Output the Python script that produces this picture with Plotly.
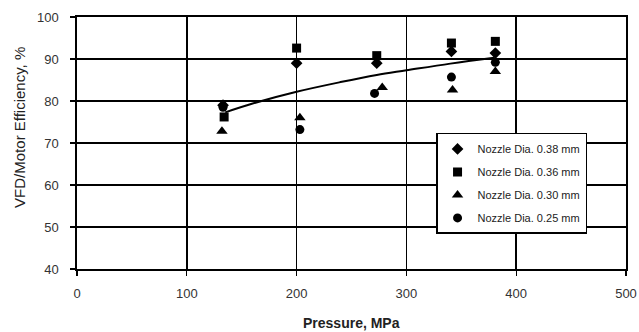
import plotly.graph_objects as go

# Data
series_names = ["Nozzle Dia. 0.38 mm", "Nozzle Dia. 0.36 mm",
                "Nozzle Dia. 0.30 mm", "Nozzle Dia. 0.25 mm"]
series_symbols = ["diamond", "square", "triangle-up", "circle"]

p_038 = [133, 200, 273, 341, 381]
eff_038 = [79.0, 89.0, 89.0, 91.8, 91.4]

p_036 = [134, 200, 273, 341, 381]
eff_036 = [76.2, 92.6, 90.8, 93.8, 94.2]

p_030 = [132, 203, 278, 342, 381]
eff_030 = [72.8, 76.0, 83.2, 82.6, 87.0]

p_025 = [133, 203, 271, 341, 381]
eff_025 = [78.5, 73.2, 81.8, 85.7, 89.2]

trend_p = [135, 160, 200, 240, 273, 300, 340, 380]
trend_eff = [77.3, 79.4, 82.2, 84.5, 86.2, 87.3, 88.9, 90.3]

x_ticks = [0, 100, 200, 300, 400, 500]
y_ticks = [40, 50, 60, 70, 80, 90, 100]

x_title = "<b>Pressure, MPa</b>"
y_title = "VFD/Motor Efficiency, %"

xs = [p_038, p_036, p_030, p_025]
ys = [eff_038, eff_036, eff_030, eff_025]

fig = go.Figure()

fig.add_trace(go.Scatter(
    x=trend_p, y=trend_eff, mode="lines", line=dict(color="black", width=2, shape="spline"),
    showlegend=False, hoverinfo="skip"))

for i, (name, sym) in enumerate(zip(series_names, series_symbols)):
    fig.add_trace(go.Scatter(
        x=xs[i], y=ys[i], mode="markers", name=name, legendgroup=f"g{i}",
        marker=dict(symbol=sym, size=9 if sym != "triangle-up" else 10, color="black",
                    line=dict(width=0))))

FONT = "Liberation Sans, Arial, sans-serif"

axis_common = dict(
    showgrid=True, gridcolor="black", gridwidth=1.6,
    showline=True, linecolor="black", linewidth=1.6, mirror=True,
    ticks="outside", ticklen=5, tickcolor="black", tickwidth=1.2,
    zeroline=False, automargin=False,
    tickfont=dict(family=FONT, size=13, color="#333333"),
)

fig.update_layout(
    width=639, height=332,
    margin=dict(l=77, r=13, t=17, b=63),
    paper_bgcolor="white", plot_bgcolor="white",
    xaxis=dict(range=[0, 500], tickvals=x_ticks, ticklabelstandoff=7, **axis_common),
    yaxis=dict(range=[40, 100], tickvals=y_ticks, ticklabelstandoff=9, **axis_common),
    legend=dict(x=0.654, y=0.54, xanchor="left", yanchor="top",
                bgcolor="white", bordercolor="black", borderwidth=1.5,
                traceorder="grouped", tracegroupgap=4,
                font=dict(family=FONT, size=11, color="#222222")),
    showlegend=True,
    annotations=[
        dict(text=x_title, xref="paper", yref="paper", x=0.5, y=0, yshift=-54,
             xanchor="center", yanchor="middle", showarrow=False,
             font=dict(family=FONT, size=14, color="#222222")),
        dict(text=y_title, xref="paper", yref="paper", x=0, y=0.56, xshift=-57,
             xanchor="center", yanchor="middle", textangle=-90, showarrow=False,
             font=dict(family=FONT, size=15, color="#222222")),
    ],
)

# Remove the default page margin so the 639x332 figure fills the window exactly.
fig.write_html("out.html",
               config={"displayModeBar": False, "staticPlot": True},
               post_script="document.body.style.margin='0';document.body.style.overflow='hidden';")
